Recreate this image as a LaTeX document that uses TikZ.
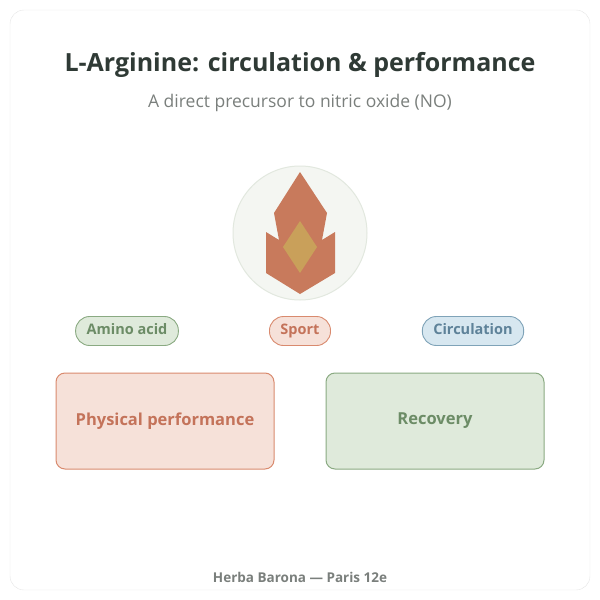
\documentclass[tikz,border=0pt]{standalone}
\usepackage{fontspec}
\setmainfont{Open Sans}
\definecolor{ink}{HTML}{2F3A35}
\definecolor{grayt}{HTML}{7A7F7C}
\definecolor{gfill}{HTML}{DFEADB}
\definecolor{gline}{HTML}{8AAA82}
\definecolor{gtext}{HTML}{6C8C66}
\definecolor{ofill}{HTML}{F6E1D9}
\definecolor{oline}{HTML}{D98A6E}
\definecolor{otext}{HTML}{C4735A}
\definecolor{bfill}{HTML}{D7E7F0}
\definecolor{bline}{HTML}{7FA3B8}
\definecolor{btext}{HTML}{5E8299}
\definecolor{flame}{HTML}{C87A5C}
\definecolor{core}{HTML}{C9A05A}
\definecolor{disc}{HTML}{F4F6F2}
\definecolor{discline}{HTML}{E2E8DF}
\tikzset{
  pill/.style={draw=#1line, fill=#1fill, text=#1text, rounded corners=14pt,
    minimum height=29pt, inner xsep=11pt, line width=0.9pt,
    text height=10pt, text depth=3pt,
    font=\fontsize{14.5}{16}\selectfont\bfseries},
  card/.style={draw=#1line, fill=#1fill, text=#1text, rounded corners=9pt,
    minimum width=218pt, minimum height=96pt, line width=1pt,
    font=\fontsize{16.5}{19}\selectfont\bfseries}
}
\begin{document}
\begin{tikzpicture}[x=1pt,y=-1pt]
  \useasboundingbox (0,0) rectangle (600,600);
  \draw[draw=black!10, fill=white, rounded corners=14pt] (10,10) rectangle (590,590);
  % heading
  \node[text=ink, font=\fontsize{25}{29}\selectfont\bfseries] (title) at (300,65)
    {L-Arginine: circulation \& performance};
  \node[text=grayt, font=\fontsize{17.5}{20}\selectfont] (sub) at (300,103)
    {A direct precursor to nitric oxide (NO)};
  % emblem
  \draw[draw=discline, fill=disc, line width=1pt] (300,233) circle (67);
  \fill[flame] (300,172) -- (327,213) -- (322,240) -- (335,232) -- (335,273)
    -- (300,294) -- (266,273) -- (266,232) -- (279,240) -- (274,213) -- cycle;
  \fill[core] (300,221) -- (317,247) -- (300,273) -- (283,247) -- cycle;
  % tags
  \node[pill=g] (amino) at (127,331) {Amino acid};
  \node[pill=o] (sport) at (300,331) {Sport};
  \node[pill=b] (circ) at (473,331) {Circulation};
  % cards
  \node[card=o] (perf) at (165,421) {Physical performance};
  \node[card=g] (recov) at (435,421) {Recovery};
  \node[text=grayt, font=\fontsize{13.5}{15}\selectfont\bfseries] (foot) at (300,577)
    {Herba Barona — Paris 12e};
\end{tikzpicture}
\end{document}
